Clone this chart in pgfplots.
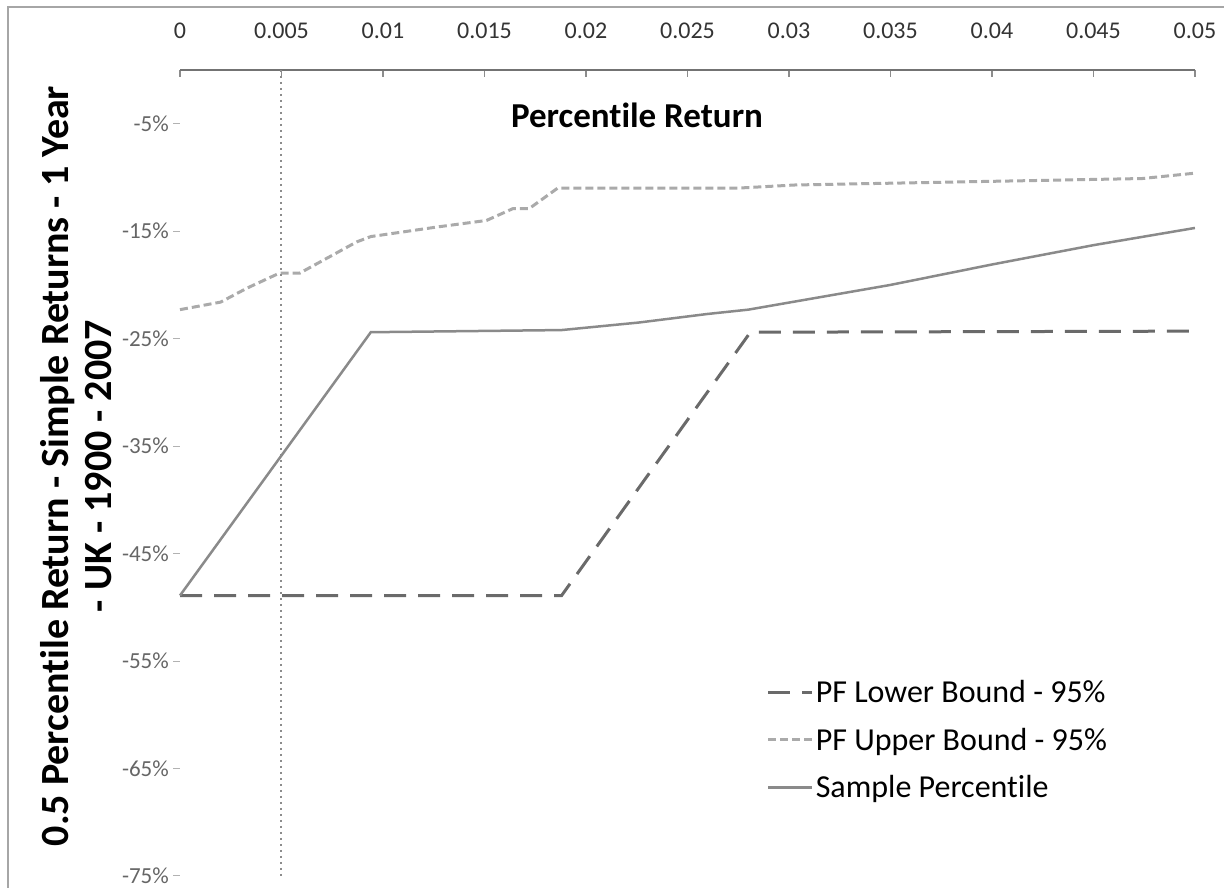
\documentclass[border=0pt]{standalone}
\usepackage{fontspec}
\setmainfont{Carlito}[Ligatures=NoCommon]
\usepackage{pgfplots}
\pgfplotsset{compat=1.18}
\definecolor{lowc}{HTML}{6A6A6A}
\definecolor{upc}{HTML}{AAAAAA}
\definecolor{samc}{HTML}{8A8A8A}
\begin{document}
\begin{tikzpicture}[x=1pt,y=1pt]
\useasboundingbox (0,0) rectangle (1224,888);
\draw[line width=2pt, color=black!35] (8,-5) -- (8,881) -- (1230,881);
\begin{axis}[
  at={(180pt,12pt)}, anchor=south west,
  scale only axis, width=1015pt, height=806pt,
  xmin=0, xmax=0.05, ymin=-75, ymax=0,
  scaled x ticks=false,
  axis x line*=top, axis y line*=left,
  y axis line style={draw=none},
  x axis line style={line width=1.5pt, color=black!55, -},
  xtick={0,0.005,0.01,0.015,0.02,0.025,0.03,0.035,0.04,0.045,0.05},
  xticklabels={0,0.005,0.01,0.015,0.02,0.025,0.03,0.035,0.04,0.045,0.05},
  ytick={-75,-65,-55,-45,-35,-25,-15,-5},
  yticklabels={-75\%,-65\%,-55\%,-45\%,-35\%,-25\%,-15\%,-5\%},
  xtick align=inside, ytick align=outside,
  major tick length=7pt,
  x tick style={color=black!45, line width=1.2pt},
  y tick style={color=black!30, line width=1pt},
  xticklabel style={font=\fontsize{24}{26}\selectfont, text=black!80, yshift=28pt},
  yticklabel style={font=\fontsize{23}{25}\selectfont, text=black!60, xshift=-3pt, inner sep=1pt},
  clip=false,
  legend style={font=\fontsize{32}{32}\selectfont, draw=none, fill=none,
    at={(0.575,0.248)}, anchor=north west, row sep=20pt,
    nodes={inner sep=2pt}},
  legend cell align=left,
  legend image code/.code={\draw[#1] (0pt,0pt) -- (44pt,0pt);},
]
\addplot[lowc, line width=3pt, dash pattern=on 22pt off 12pt] coordinates {
(0,-48.9) (0.0188,-48.9) (0.0281,-24.4) (0.05,-24.3)};
\addlegendentry{PF Lower Bound - 95\%}
\addplot[upc, line width=3pt, dash pattern=on 8pt off 4pt] coordinates {
(0,-22.3) (0.002,-21.6) (0.0033,-20.3) (0.0049,-18.9) (0.0059,-18.9)
(0.0087,-16.0) (0.0094,-15.5) (0.0127,-14.6) (0.0151,-14.0) (0.0164,-12.9)
(0.0172,-12.9) (0.0186,-11.0) (0.0274,-11.0) (0.0303,-10.7) (0.0474,-10.1) (0.05,-9.6)};
\addlegendentry{PF Upper Bound - 95\%}
\addplot[samc, line width=2.5pt] coordinates {
(0,-48.9) (0.0094,-24.4) (0.0188,-24.2) (0.0226,-23.5) (0.026,-22.7) (0.028,-22.3)
(0.035,-20.0) (0.04,-18.1) (0.045,-16.3) (0.05,-14.7)};
\addlegendentry{Sample Percentile}
\addplot[black!45, line width=2pt, dash pattern=on 2pt off 4pt, forget plot] coordinates {
(0.005,0) (0.005,-75)};
\end{axis}
\node[anchor=base, font=\bfseries\fontsize{35}{37}\selectfont] at (637,760) {Percentile Return};
\node[rotate=90, align=center, font=\bfseries\fontsize{40}{43}\selectfont] at (76,422)
  {0.5 Percentile Return - Simple Returns - 1 Year\\- UK - 1900 - 2007};
\end{tikzpicture}
\end{document}
